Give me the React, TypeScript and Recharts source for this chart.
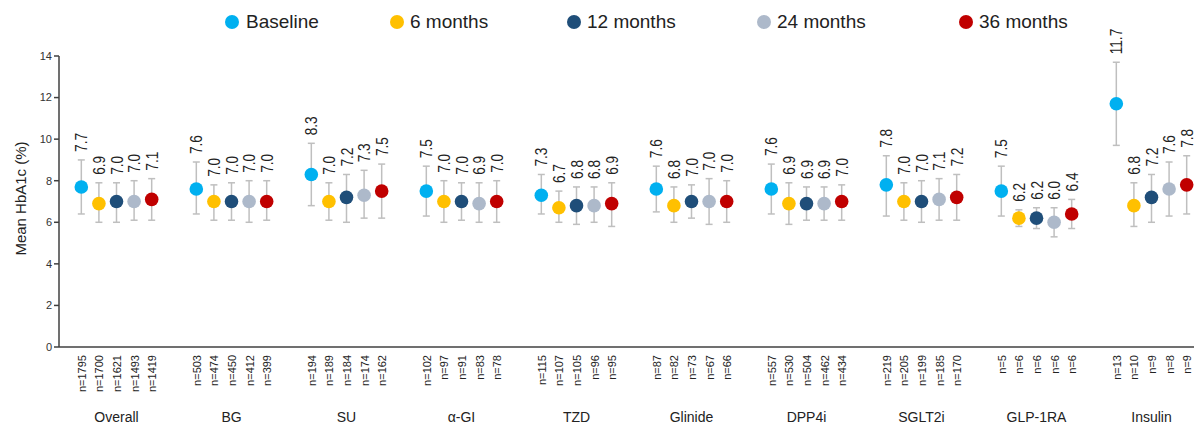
import React from 'react';
import { ScatterChart, Scatter, XAxis, YAxis, ErrorBar } from 'recharts';

const categories = ['Overall', 'BG', 'SU', 'α-GI', 'TZD', 'Glinide', 'DPP4i', 'SGLT2i', 'GLP-1RA', 'Insulin'];
const seriesNames = ['Baseline', '6 months', '12 months', '24 months', '36 months'];
const seriesColors = ['#00b0f0', '#ffc000', '#1f4e79', '#adb9ca', '#c00000'];

// mean HbA1c per visit
const baselineMean = [7.7, 7.6, 8.3, 7.5, 7.3, 7.6, 7.6, 7.8, 7.5, 11.7];
const month6Mean = [6.9, 7.0, 7.0, 7.0, 6.7, 6.8, 6.9, 7.0, 6.2, 6.8];
const month12Mean = [7.0, 7.0, 7.2, 7.0, 6.8, 7.0, 6.9, 7.0, 6.2, 7.2];
const month24Mean = [7.0, 7.0, 7.3, 6.9, 6.8, 7.0, 6.9, 7.1, 6.0, 7.6];
const month36Mean = [7.1, 7.0, 7.5, 7.0, 6.9, 7.0, 7.0, 7.2, 6.4, 7.8];

// error bar ends
const baselineHigh = [9.0, 8.9, 9.8, 8.7, 8.3, 8.7, 8.8, 9.2, 8.7, 13.7];
const baselineLow = [6.4, 6.4, 6.8, 6.3, 6.4, 6.5, 6.4, 6.3, 6.3, 9.7];
const month6High = [7.9, 7.8, 7.9, 8.0, 7.5, 7.7, 7.9, 7.9, 6.6, 7.9];
const month6Low = [6.0, 6.1, 6.1, 6.0, 6.0, 6.0, 5.9, 6.1, 5.8, 5.8];
const month12High = [7.9, 7.9, 8.3, 7.9, 7.7, 7.8, 7.7, 8.0, 6.7, 8.3];
const month12Low = [6.0, 6.1, 6.0, 6.1, 5.9, 6.2, 6.1, 6.0, 5.7, 6.0];
const month24High = [8.0, 8.0, 8.5, 7.9, 7.7, 8.1, 7.7, 8.1, 6.7, 8.9];
const month24Low = [6.1, 6.0, 6.2, 6.0, 6.0, 5.9, 6.1, 6.1, 5.3, 6.3];
const month36High = [8.1, 8.0, 8.8, 8.0, 7.9, 8.0, 7.8, 8.3, 7.1, 9.2];
const month36Low = [6.1, 6.1, 6.2, 6.0, 5.8, 6.0, 6.1, 6.1, 5.7, 6.4];

// patients per visit
const baselineN = [1795, 503, 194, 102, 115, 87, 557, 219, 5, 13];
const month6N = [1700, 474, 189, 97, 107, 82, 530, 205, 6, 10];
const month12N = [1621, 450, 184, 91, 105, 73, 504, 199, 6, 9];
const month24N = [1493, 412, 174, 83, 96, 67, 462, 185, 6, 8];
const month36N = [1419, 399, 162, 78, 95, 66, 434, 170, 6, 9];

const yTicks = [0, 2, 4, 6, 8, 10, 12, 14];

const means = [baselineMean, month6Mean, month12Mean, month24Mean, month36Mean];
const highs = [baselineHigh, month6High, month12High, month24High, month36High];
const lows = [baselineLow, month6Low, month12Low, month24Low, month36Low];
const counts = [baselineN, month6N, month12N, month24N, month36N];

const SPREAD = 0.153; // gap between visits inside a group, in group units
const FONT = "'Liberation Sans', Arial, Helvetica, sans-serif";
const legendX = [232, 397, 574, 764, 966];

const seriesData = seriesNames.map((_, s) =>
  categories.map((cat, g) => ({
    x: g + (s - 2) * SPREAD,
    y: means[s][g],
    err: [means[s][g] - lows[s][g], highs[s][g] - means[s][g]],
    hi: highs[s][g],
    label: means[s][g].toFixed(1),
    cat,
  }))
);

const labelData = seriesData.map((pts) => pts.map((p) => ({ ...p, y: p.hi })));

const xTicks: number[] = [];
categories.forEach((_, g) => {
  seriesNames.forEach((__, s) => xTicks.push(g + (s - 2) * SPREAD));
});

const XTick = (props: any) => {
  const { x, y, payload } = props;
  const v = payload.value;
  const g = Math.round(v);
  const s = Math.round((v - g) / SPREAD) + 2;
  const ty = y + 8;
  return (
    <g>
      <text
        x={x}
        y={ty}
        dy={4.5}
        transform={`rotate(-90 ${x} ${ty})`}
        textAnchor="end"
        fontSize={11}
        fill="#222"
      >
        n={counts[s][g]}
      </text>
      {s === 2 && (
        <text x={x} y={y + 75} textAnchor="middle" fontSize={14} fill="#222">
          {categories[g]}
        </text>
      )}
    </g>
  );
};

const YTitle = (props: any) => {
  const vb = props.viewBox || { x: 0, y: 56, width: 59, height: 291 };
  const cx = vb.x + 20;
  const cy = vb.y + vb.height / 2 - 3;
  return (
    <text
      x={cx}
      y={cy}
      transform={`rotate(-90 ${cx} ${cy})`}
      textAnchor="middle"
      dominantBaseline="central"
      fontSize={15}
      fill="#222"
    >
      Mean HbA1c (%)
    </text>
  );
};

const ValueLabel = (props: any) => {
  const { cx, cy, payload } = props;
  if (cx == null || cy == null) return null;
  return (
    <text
      transform={`translate(${cx},${cy - 8}) rotate(-90) scale(0.8,1)`}
      x={0}
      y={0}
      dy={6}
      fontSize={17}
      fill="#222"
      textAnchor="start"
    >
      {payload.label}
    </text>
  );
};

export default function App() {
  return (
    <div style={{ position: 'absolute', left: 0, top: 0, width: 1194, height: 425, fontFamily: FONT, background: '#fff' }}>
      {seriesNames.map((name, s) => (
        <div
          key={name}
          style={{
            position: 'absolute',
            left: legendX[s] - 7,
            top: 10,
            height: 24,
            display: 'flex',
            alignItems: 'center',
            fontSize: 19,
            color: '#222',
            whiteSpace: 'nowrap',
          }}
        >
          <span style={{ width: 14, height: 14, borderRadius: 7, background: seriesColors[s], display: 'inline-block' }} />
          <span style={{ marginLeft: s === 0 ? 7 : 6 }}>{name}</span>
        </div>
      ))}
      <ScatterChart width={1194} height={425} margin={{ top: 56, right: 0, bottom: 0, left: 0 }}>
        <XAxis
          type="number"
          dataKey="x"
          domain={[-0.5, -0.5 + 1135 / 115]}
          ticks={xTicks}
          interval={0}
          tick={<XTick />}
          tickLine={false}
          tickSize={0}
          tickMargin={0}
          height={78}
          axisLine={{ stroke: '#404040', strokeWidth: 1.5 }}
        />
        <YAxis
          type="number"
          dataKey="y"
          domain={[0, 14]}
          ticks={yTicks}
          width={59}
          tickSize={5}
          tickMargin={2}
          tick={{ fontSize: 11, fill: '#333' }}
          tickLine={{ stroke: '#404040', strokeWidth: 1.5 }}
          axisLine={{ stroke: '#404040', strokeWidth: 1.5 }}
          label={YTitle}
        />
        {seriesNames.map((name, s) => (
          <Scatter
            key={name}
            name={name}
            data={seriesData[s]}
            fill={seriesColors[s]}
            isAnimationActive={false}
            shape={(p: any) => <circle cx={p.cx} cy={p.cy} r={6.8} fill={seriesColors[s]} />}
          >
            <ErrorBar dataKey="err" direction="y" width={3.5} stroke="#bfbfbf" strokeWidth={1.5} />
          </Scatter>
        ))}
        {seriesNames.map((name, s) => (
          <Scatter
            key={`lbl-${name}`}
            data={labelData[s]}
            isAnimationActive={false}
            shape={ValueLabel}
          />
        ))}
      </ScatterChart>
    </div>
  );
}
